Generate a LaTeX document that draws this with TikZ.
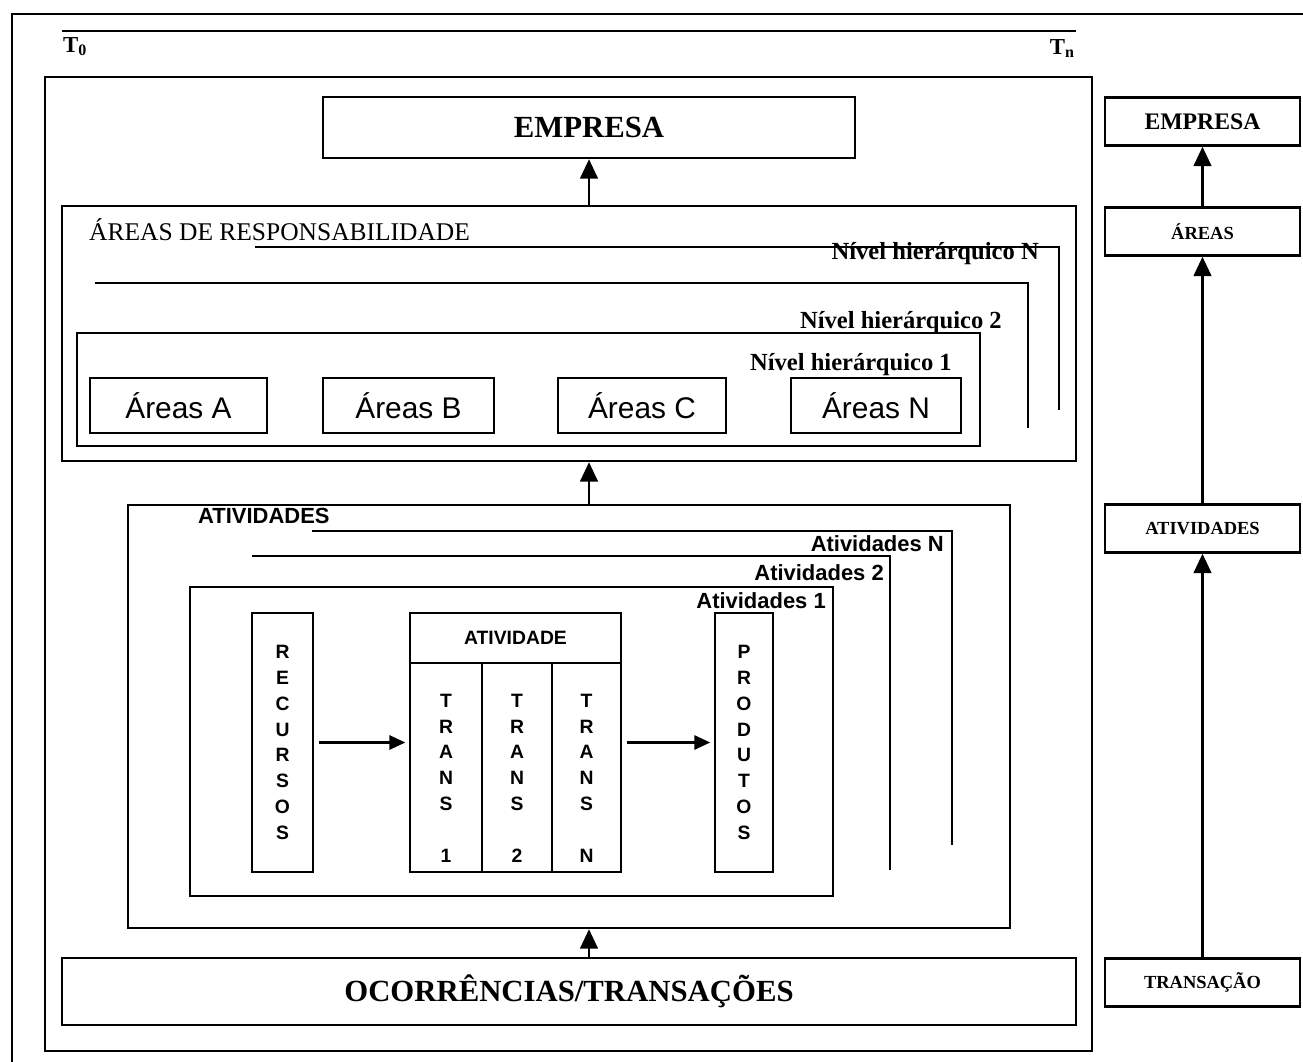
\documentclass[tikz,border=0pt]{standalone}
\usepackage{fontspec}
\setmainfont{Liberation Serif}
\setsansfont{Liberation Sans}
\usetikzlibrary{arrows.meta, positioning}

\begin{document}
\begin{tikzpicture}[
    x=0.02cm, y=-0.02cm,
    line width=1.4pt,
    box/.style={draw, rectangle, inner sep=0pt},
    bigarrow/.style={-{Triangle[length=11pt, width=10pt]}},
    smallarrow/.style={-{Triangle[length=9pt, width=8pt]}},
    serifbig/.style={font=\fontsize{17.5}{20}\selectfont\bfseries},
    nivel/.style={anchor=base east, inner sep=0pt, font=\fontsize{14}{16}\selectfont\bfseries},
    ativlabel/.style={anchor=base east, inner sep=0pt, font=\sffamily\fontsize{12.5}{14}\selectfont\bfseries},
    areabox/.style={box, minimum height=1.1cm, font=\sffamily\fontsize{17}{20}\selectfont},
    column/.style={box, minimum height=5.18cm, align=center, font=\sffamily\fontsize{11}{14.7}\selectfont\bfseries},
    letters/.style={align=center, inner sep=0pt, font=\sffamily\fontsize{11}{14.7}\selectfont\bfseries},
    sidebox/.style={box, minimum width=3.9cm, minimum height=0.96cm, font=\fontsize{10.5}{12}\selectfont\bfseries}
]
    \useasboundingbox (0,0) rectangle (1303,1062);

    % Frame and time axis
    \draw[line width=1.6pt] (1303,14) -- (12,14) -- (12,1062);
    \draw (62,31) -- (1076,31);
    \node[anchor=north west, inner sep=0pt, font=\fontsize{13}{15}\selectfont\bfseries] (t0) at (62,36) {T\textsubscript{0}};
    \node[anchor=north east, inner sep=0pt, font=\fontsize{13}{15}\selectfont\bfseries] (tn) at (1076,38) {T\textsubscript{n}};

    % Main box
    \draw (45,77) rectangle (1092,1051);

    % Empresa
    \node[box, serifbig, minimum width=10.64cm, minimum height=1.22cm] (empresa) at (589,127.5) {EMPRESA};

    % Areas de responsabilidade
    \node[box, minimum width=20.28cm, minimum height=5.1cm] (areas) at (569,333.5) {};
    \node[anchor=base west, inner sep=0pt, font=\fontsize{14.5}{16}\selectfont] (areastitle) at (88,240) {ÁREAS DE RESPONSABILIDADE};
    \draw (255,247) -- (1059,247) -- (1059,410);
    \draw (95,283) -- (1028,283) -- (1028,428);
    \draw (77,333) rectangle (980,446);
    \node[nivel] (niveln) at (1040,259) {Nível hierárquico N};
    \node[nivel] (nivel2) at (1003,328) {Nível hierárquico 2};
    \node[nivel] (nivel1) at (953,370) {Nível hierárquico 1};

    \node[areabox, minimum width=3.54cm] (areaa) at (178.5,405.5) {Áreas A};
    \node[areabox, minimum width=3.42cm] (areab) at (408.5,405.5) {Áreas B};
    \node[areabox, minimum width=3.36cm] (areac) at (642,405.5) {Áreas C};
    \node[areabox, minimum width=3.40cm] (arean) at (876,405.5) {Áreas N};

    % Atividades
    \node[box, minimum width=17.64cm, minimum height=8.46cm] (ativ) at (569,716.5) {};
    \node[anchor=base west, inner sep=0pt, font=\sffamily\fontsize{12.5}{14}\selectfont\bfseries] (ativtitle) at (197,523) {ATIVIDADES};
    \draw (312,531) -- (952,531) -- (952,845);
    \draw (252,556) -- (890,556) -- (890,870);
    \draw (190,587) rectangle (833,896);
    \node[ativlabel] (ativn) at (945,551) {Atividades N};
    \node[ativlabel] (ativ2) at (885,580) {Atividades 2};
    \node[ativlabel] (ativ1) at (827,608) {Atividades 1};

    \node[column, minimum width=1.22cm] (recursos) at (282.5,742.5) {R\\E\\C\\U\\R\\S\\O\\S};
    \node[column, minimum width=4.22cm] (atividade) at (515.5,742.5) {};
    \node[column, minimum width=1.16cm] (produtos) at (744,742.5) {P\\R\\O\\D\\U\\T\\O\\S};
    \draw (410,663) -- (621,663);
    \draw (482,663) -- (482,872);
    \draw (552,663) -- (552,872);
    \node[letters] (atividadehead) at (515.5,638) {ATIVIDADE};
    \node[letters] (trans1) at (446,778) {T\\R\\A\\N\\S\\\mbox{}\\1};
    \node[letters] (trans2) at (517,778) {T\\R\\A\\N\\S\\\mbox{}\\2};
    \node[letters] (transn) at (586.5,778) {T\\R\\A\\N\\S\\\mbox{}\\N};

    \draw[smallarrow, shorten <=3pt, shorten >=2pt] (recursos.east) -- (atividade.west);
    \draw[smallarrow, shorten <=3pt, shorten >=2pt] (atividade.east) -- (produtos.west);

    % Ocorrencias
    \node[box, serifbig, minimum width=20.28cm, minimum height=1.34cm] (ocorr) at (569,991.5) {OCORRÊNCIAS/TRANSAÇÕES};

    % Arrows up the main column
    \draw[bigarrow] (areas.north -| empresa.south) -- (empresa.south);
    \draw[bigarrow] (ativ.north -| empresa.south) -- (areas.south -| empresa.south);
    \draw[bigarrow] (ocorr.north -| empresa.south) -- (ativ.south -| empresa.south);

    % Side column
    \node[sidebox, font=\fontsize{13.5}{16}\selectfont\bfseries] (remp) at (1202.5,121.5) {EMPRESA};
    \node[sidebox] (rareas) at (1202.5,231.5) {ÁREAS};
    \node[sidebox] (rativ) at (1202.5,528.5) {ATIVIDADES};
    \node[sidebox] (rtrans) at (1202.5,982.5) {TRANSAÇÃO};
    \draw[bigarrow] (rareas.north) -- (remp.south);
    \draw[bigarrow] (rativ.north) -- (rareas.south);
    \draw[bigarrow] (rtrans.north) -- (rativ.south);
\end{tikzpicture}
\end{document}
